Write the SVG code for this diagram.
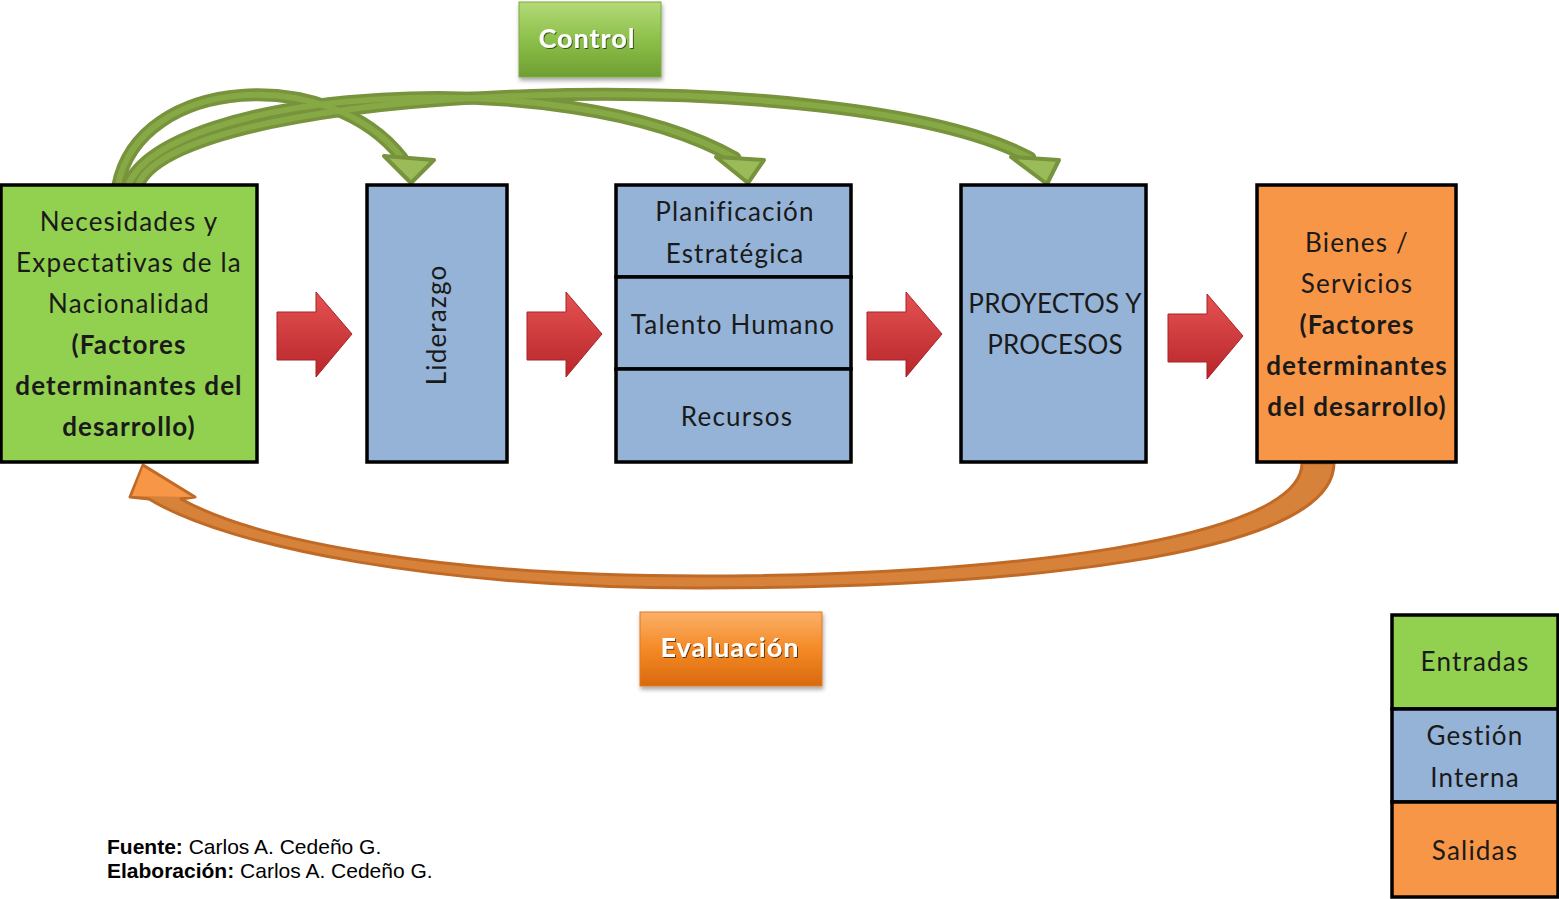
<svg xmlns="http://www.w3.org/2000/svg" width="1559" height="899" viewBox="0 0 1559 899">
<defs>
<style>
.box{stroke:#000;stroke-width:3.5}
.g{fill:#92D050}.b{fill:#95B3D7}.o{fill:#F79646}
.t{font-family:Lato,"Liberation Sans",sans-serif;font-size:26px;letter-spacing:1.2px;fill:#1a1a1a;text-anchor:middle}
.bd{font-weight:bold;letter-spacing:1.1px}
.ns{letter-spacing:0.2px}
.btn{font-family:Lato,"Liberation Sans",sans-serif;font-size:27px;letter-spacing:1px;fill:#fff;text-anchor:middle;font-weight:bold}
.ft{font-family:"Liberation Sans",Arial,sans-serif;font-size:21px;fill:#000}
.gs1{fill:none;stroke:#77933C;stroke-width:13;stroke-linecap:round}
.gs2{fill:none;stroke:#86A845;stroke-width:6;stroke-linecap:round}
.gh{fill:#9BBB59;stroke:#77933C;stroke-width:4;stroke-linejoin:round}
</style>
<linearGradient id="red" x1="0" y1="0" x2="0" y2="1">
<stop offset="0" stop-color="#E55252"/><stop offset="1" stop-color="#B8262B"/>
</linearGradient>
<linearGradient id="gbtn" x1="0" y1="0" x2="0" y2="1">
<stop offset="0" stop-color="#B3DA78"/><stop offset="0.5" stop-color="#8DC04A"/><stop offset="1" stop-color="#6E9E31"/>
</linearGradient>
<linearGradient id="obtn" x1="0" y1="0" x2="0" y2="1">
<stop offset="0" stop-color="#FBB06A"/><stop offset="0.5" stop-color="#F48A26"/><stop offset="1" stop-color="#D9690D"/>
</linearGradient>
<filter id="sh" x="-10%" y="-10%" width="130%" height="140%">
<feDropShadow dx="1" dy="3" stdDeviation="2" flood-color="#000" flood-opacity="0.35"/>
</filter>
<filter id="tsh"><feDropShadow dx="1" dy="1" stdDeviation="0.6" flood-color="#000" flood-opacity="0.6"/></filter>
<polygon id="ra" points="277,312 316,312 316,292 352,334 316,377 316,360 277,360" fill="url(#red)" stroke="#A82228" stroke-width="1"/>
</defs>
<rect width="1559" height="899" fill="#fff"/>

<g id="connectors">
<use href="#ra"/>
<use href="#ra" transform="translate(250,0)"/>
<use href="#ra" transform="translate(590,0)"/>
<use href="#ra" transform="translate(891,2)"/>
<path class="gs1" d="M138,185 C180,80 850,60 1030,158"/>
<path class="gs1" d="M128,185 C170,90 560,60 735,158"/>
<path class="gs1" d="M118,185 C140,75 330,65 402,158"/>
<path class="gs2" d="M138,185 C180,80 850,60 1030,158"/>
<path class="gs2" d="M128,185 C170,90 560,60 735,158"/>
<path class="gs2" d="M118,185 C140,75 330,65 402,158"/>
<polygon class="gh" points="384,156 434,160 411,183"/>
<polygon class="gh" points="716,157 764,160 748,183"/>
<polygon class="gh" points="1011,157 1059,160 1047,184"/>
<path d="M143,465 L195,497 L181,499 C260,543 450,576 700,576 C1000,576 1302,540 1302,463 L1334,463 C1334,558 1000,588 700,588 C440,588 230,548 149,499 L130,497 Z" fill="#D6823B" stroke="#C06A26" stroke-width="3" stroke-linejoin="round"/>
<polygon points="143,467 192,497 132,496" fill="#F79646"/>
</g>

<g id="control" filter="url(#sh)">
<rect x="519" y="2" width="142" height="75" fill="url(#gbtn)" stroke="#7FA843" stroke-width="1"/>
<text class="btn" x="587" y="48" filter="url(#tsh)">Control</text>
</g>
<g id="evaluacion" filter="url(#sh)">
<rect x="640" y="612" width="182" height="74" fill="url(#obtn)" stroke="#E07A1E" stroke-width="1"/>
<text class="btn" x="730" y="657" filter="url(#tsh)">Evaluación</text>
</g>

<g id="necesidades">
<rect class="box g" x="1" y="185" width="256" height="277"/>
<text class="t" x="129" y="231">Necesidades y</text>
<text class="t" x="129" y="272">Expectativas de la</text>
<text class="t" x="129" y="313">Nacionalidad</text>
<text class="t bd" x="129" y="354">(Factores</text>
<text class="t bd" x="129" y="395">determinantes del</text>
<text class="t bd" x="129" y="436">desarrollo)</text>
</g>

<g id="liderazgo">
<rect class="box b" x="367" y="185" width="140" height="277"/>
<text class="t" transform="translate(446,325) rotate(-90)">Liderazgo</text>
</g>

<g id="planificacion">
<rect class="box b" x="616" y="185" width="235" height="92"/>
<text class="t" x="735" y="221">Planificación</text>
<text class="t" x="735" y="263">Estratégica</text>
</g>
<g id="talento">
<rect class="box b" x="616" y="277" width="235" height="92"/>
<text class="t" x="733" y="334">Talento Humano</text>
</g>
<g id="recursos">
<rect class="box b" x="616" y="369" width="235" height="93"/>
<text class="t" x="737" y="426">Recursos</text>
</g>

<g id="proyectos">
<rect class="box b" x="961" y="185" width="185" height="277"/>
<text class="t ns" x="1055" y="313">PROYECTOS Y</text>
<text class="t ns" x="1055" y="354">PROCESOS</text>
</g>

<g id="bienes">
<rect class="box o" x="1257" y="185" width="199" height="277"/>
<text class="t" x="1357" y="252">Bienes /</text>
<text class="t" x="1357" y="293">Servicios</text>
<text class="t bd" x="1357" y="334">(Factores</text>
<text class="t bd" x="1357" y="375">determinantes</text>
<text class="t bd" x="1357" y="416">del desarrollo)</text>
</g>

<g id="legend">
<rect class="box g" x="1392" y="615" width="166" height="94"/>
<text class="t" x="1475" y="671">Entradas</text>
<rect class="box b" x="1392" y="709" width="166" height="93"/>
<text class="t" x="1475" y="745">Gestión</text>
<text class="t" x="1475" y="787">Interna</text>
<rect class="box o" x="1392" y="802" width="166" height="95"/>
<text class="t" x="1475" y="860">Salidas</text>
</g>

<g id="footer">
<text class="ft" x="107" y="854"><tspan font-weight="bold">Fuente:</tspan> Carlos A. Cedeño G.</text>
<text class="ft" x="107" y="878"><tspan font-weight="bold">Elaboración:</tspan> Carlos A. Cedeño G.</text>
</g>
</svg>
